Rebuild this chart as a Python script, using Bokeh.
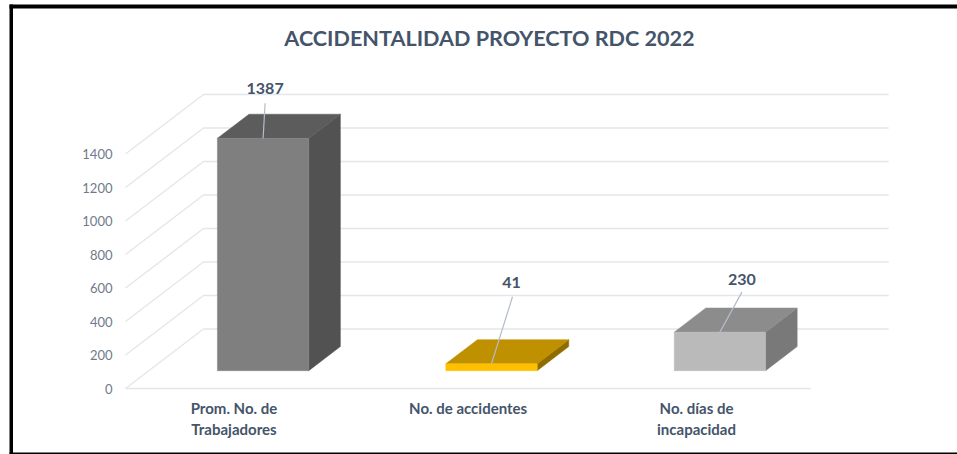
from bokeh.plotting import figure
from bokeh.models import LinearAxis, FixedTicker, ColumnDataSource, Range1d
from bokeh.embed import file_html
from bokeh.resources import INLINE
from bokeh.core.properties import value as fixed

# --- data ---------------------------------------------------------------
title_text = "ACCIDENTALIDAD PROYECTO RDC 2022"
categories = ["Prom. No. de\nTrabajadores", "No. de accidentes", "No. días de\nincapacidad"]
values = [1387, 41, 230]
y_ticks = [0, 200, 400, 600, 800, 1000, 1200, 1400]

# --- styles --------------------------------------------------------------
front_colors = ["#7f7f7f", "#ffc000", "#bababa"]
top_colors = ["#5c5c5c", "#bf9000", "#8c8c8c"]
side_colors = ["#525252", "#8f6c00", "#797979"]
label_pos = [0.475, 1.5, 2.5]

W, H = 957, 454
PX_X = 228.4          # pixels per category
PX_Y = 33.5 / 200     # pixels per value unit
X0, Y0 = 125, 388     # pixel of the chart origin
DEPTH_X = 78 / PX_X   # floor depth in category units
DEPTH_Y = 59.5 / PX_Y # floor depth in value units
D0, D1 = 0.30, 0.705  # depth span of bars (0..1 of the floor)
BAR_W = 0.40          # bar width in category units
TEXT = "#44546a"

# leader / label offsets from top-front-centre of each bar, pixels
lead_dx = [2, 21, 22]
lead_dy = [35, 67, 40]
text_dx = [2, 20, 22]
text_dy = [50, 81, 53]

p = figure(
    width=W, height=H, output_backend="svg", toolbar_location=None,
    min_border=0, x_axis_location=None, y_axis_location=None,
    x_range=Range1d(-X0 / PX_X, (W - X0) / PX_X),
    y_range=Range1d(-(H - Y0) / PX_Y, Y0 / PX_Y),
    margin=(0, 0, 0, 0),
)
p.outline_line_color = None
p.grid.visible = False
p.background_fill_color = "white"
p.border_fill_color = "white"


def proj(x, v, d):
    return x + d * DEPTH_X, v + d * DEPTH_Y


# --- 3-D walls: depth lines and back gridlines ---------------------------
grid = "#e4e6ea"
n = len(categories)
for t in y_ticks:
    bx, by = proj(0, t, 1)
    ex, ey = proj(n, t, 1)
    p.line([0, bx, ex], [t, by, ey], line_color=grid, line_width=1.4)
p.line([0, n], [0, 0], line_color=grid, line_width=1.6)

# --- axes placed on the chart's front plane ------------------------------
yax = LinearAxis(
    fixed_location=0, ticker=FixedTicker(ticks=y_ticks),
    axis_line_color=None, major_tick_line_color=None, minor_tick_line_color=None,
    major_label_text_color="#6f7a8a", major_label_text_font="Lato",
    major_label_text_font_size="13px", major_label_standoff=7,
)
p.add_layout(yax, "left")
xax = LinearAxis(
    fixed_location=0, ticker=FixedTicker(ticks=label_pos),
    major_label_overrides=dict(zip(label_pos, categories)),
    axis_line_color=None, major_tick_line_color=None, minor_tick_line_color=None,
    major_label_text_color=TEXT, major_label_text_font="Lato",
    major_label_text_font_style="bold", major_label_text_font_size="15px",
    major_label_standoff=4,
)
p.add_layout(xax, "below")

# --- bars ----------------------------------------------------------------
for i, v in enumerate(values):
    l = i + 0.5 - BAR_W / 2
    r = i + 0.5 + BAR_W / 2
    fl, fb = proj(l, 0, D0)
    fr, ft = proj(r, v, D0)
    bl, bt = proj(l, v, D1)
    br, bb = proj(r, 0, D1)
    p.patch([fr, br, br, fr], [fb, bb, bt, ft], fill_color=side_colors[i], line_color=side_colors[i], line_width=0.5)
    p.patch([fl, bl, br, fr], [ft, bt, bt, ft], fill_color=top_colors[i], line_color=top_colors[i], line_width=0.5)
    p.patch([fl, fr, fr, fl], [fb, fb, ft, ft], fill_color=front_colors[i], line_color=front_colors[i], line_width=0.5)
    cx = (fl + fr) / 2
    p.line([cx, cx + lead_dx[i] / PX_X], [ft, ft + lead_dy[i] / PX_Y],
           line_color="#b4bcc8", line_width=1.2)

# --- data labels ---------------------------------------------------------
lab = ColumnDataSource(dict(
    x=[proj(i + 0.5, v, D0)[0] + text_dx[i] / PX_X for i, v in enumerate(values)],
    y=[proj(i + 0.5, v, D0)[1] + text_dy[i] / PX_Y for i, v in enumerate(values)],
    t=[str(v) for v in values],
))
p.text("x", "y", text="t", source=lab, text_align="center", text_baseline="middle",
       text_color=TEXT, text_font=fixed("Lato"), text_font_style="bold", text_font_size="16px")

# --- title ---------------------------------------------------------------
p.text([(489 - X0) / PX_X], [(Y0 - 37) / PX_Y], text=[title_text], text_align="center",
       text_baseline="middle", text_color=TEXT, text_font=fixed("Lato"),
       text_font_style="bold", text_font_size="21.6px")

# --- picture frame -------------------------------------------------------
def px(x):
    return (x - X0) / PX_X
def py(y):
    return (Y0 - y) / PX_Y
p.quad(left=[px(9), px(9), px(9)], right=[px(12.5), px(957), px(957)],
       bottom=[py(454), py(8), py(454)], top=[py(4), py(4), py(452)],
       fill_color="black", line_color=None)

open("out.html", "w").write(file_html(p, INLINE))
